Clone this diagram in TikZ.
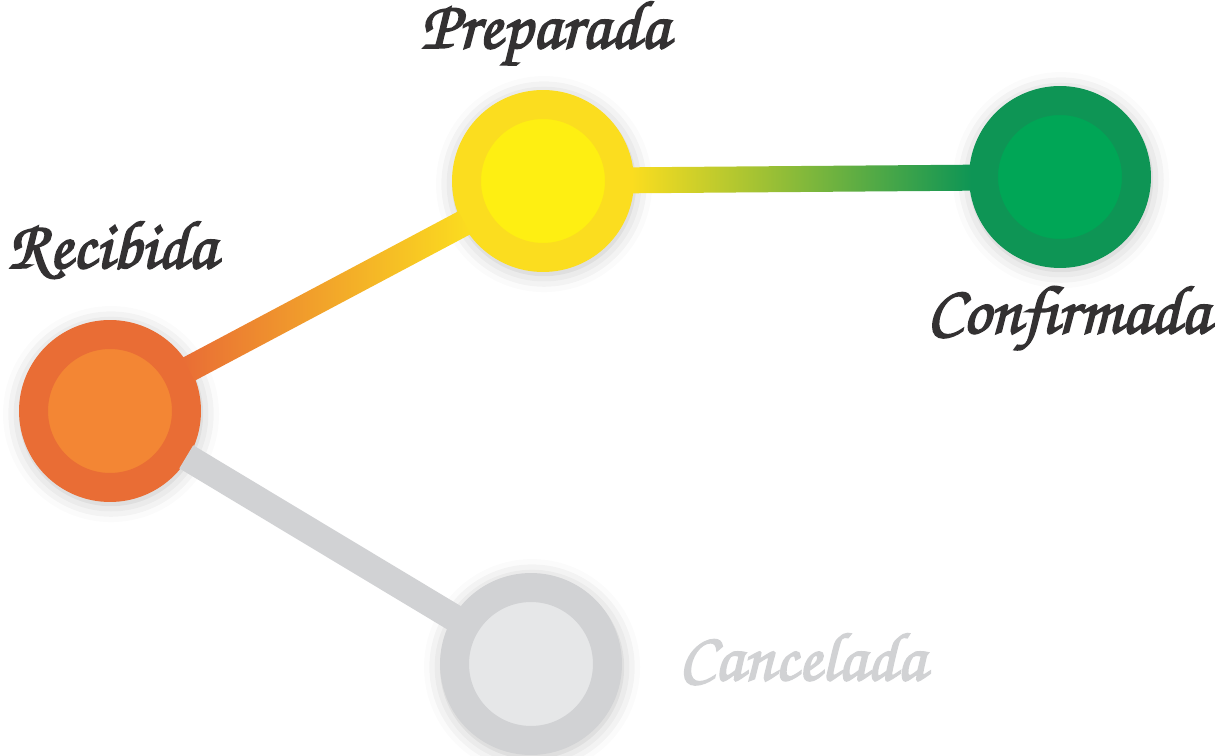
\documentclass[tikz,border=0pt]{standalone}
\usepackage{xcolor}
\usepackage{tikz}
\usepackage{fontspec}
\usetikzlibrary{calc, shadows.blur}
\newfontfamily\stagefont[Extension=.otf, FakeBold=2.5]{texgyrechorus-mediumitalic}
\definecolor{recout}{HTML}{E96D35}
\definecolor{recin}{HTML}{F38634}
\definecolor{prepout}{HTML}{FBDD1F}
\definecolor{prepin}{HTML}{FEEF12}
\definecolor{confout}{HTML}{0E9555}
\definecolor{confin}{HTML}{00A656}
\definecolor{cancout}{HTML}{D1D2D4}
\definecolor{cancin}{HTML}{E6E7E8}
\definecolor{labeltext}{HTML}{333132}
\definecolor{linkmid}{HTML}{C4D02A}

\tikzset{
    stage/.style 2 args={circle, draw=#1, fill=#2, line width=0.58cm,
                        minimum size=3.06cm, inner sep=0pt,
                        blur shadow={shadow xshift=0.5pt, shadow yshift=-1.5pt,
                                     shadow scale=1.17, shadow blur radius=9pt,
                                     shadow opacity=25}},
    stage label/.style={font=\stagefont\fontsize{39}{43}\selectfont, text=#1,
                        anchor=base, inner sep=0pt, text height=0.8cm},
}

\begin{document}
\begin{tikzpicture}[x=0.02cm, y=-0.02cm]
    \useasboundingbox (0,0) rectangle (1217,756);

    % Stages
    \node[stage={recout}{recin}] (recibida) at (110, 411) {};
    \node[stage={prepout}{prepin}] (preparada) at (543, 181) {};
    \node[stage={confout}{confin}] (confirmada) at (1060, 177) {};
    \node[stage={cancout}{cancin}] (cancelada) at (531, 664) {};

    % Connectors, from ring edge to ring edge
    \coordinate (rp) at ($(recibida.center)!1.78cm!(preparada.center)$);
    \coordinate (pr) at ($(preparada.center)!1.78cm!(recibida.center)$);
    \coordinate (pc) at ($(preparada.center)!1.78cm!(confirmada.center)$);
    \coordinate (cp) at ($(confirmada.center)!1.78cm!(preparada.center)$);
    \coordinate (rc) at ($(recibida.center)!1.78cm!(cancelada.center)$);
    \coordinate (cr) at ($(cancelada.center)!1.78cm!(recibida.center)$);

    \draw[cancout, line width=0.54cm] (rc) -- (cr);
    \shade[left color=recout, right color=prepout]
        ($(rp)!0.26cm!90:(pr)$) -- ($(pr)!0.26cm!-90:(rp)$)
        -- ($(pr)!0.26cm!90:(rp)$) -- ($(rp)!0.26cm!-90:(pr)$) -- cycle;
    \shade[left color=prepout, middle color=linkmid, right color=confout]
        ($(pc)!0.26cm!90:(cp)$) -- ($(cp)!0.26cm!-90:(pc)$)
        -- ($(cp)!0.26cm!90:(pc)$) -- ($(pc)!0.26cm!-90:(cp)$) -- cycle;

    % Labels
    \node[stage label=labeltext] (lrec) at (112, 268) {Recibida};
    \node[stage label=labeltext] (lprep) at (545, 48) {Preparada};
    \node[stage label=labeltext] (lconf) at (1068, 333) {Confirmada};
    \node[stage label=cancout] (lcanc) at (802, 680) {Cancelada};
\end{tikzpicture}
\end{document}
